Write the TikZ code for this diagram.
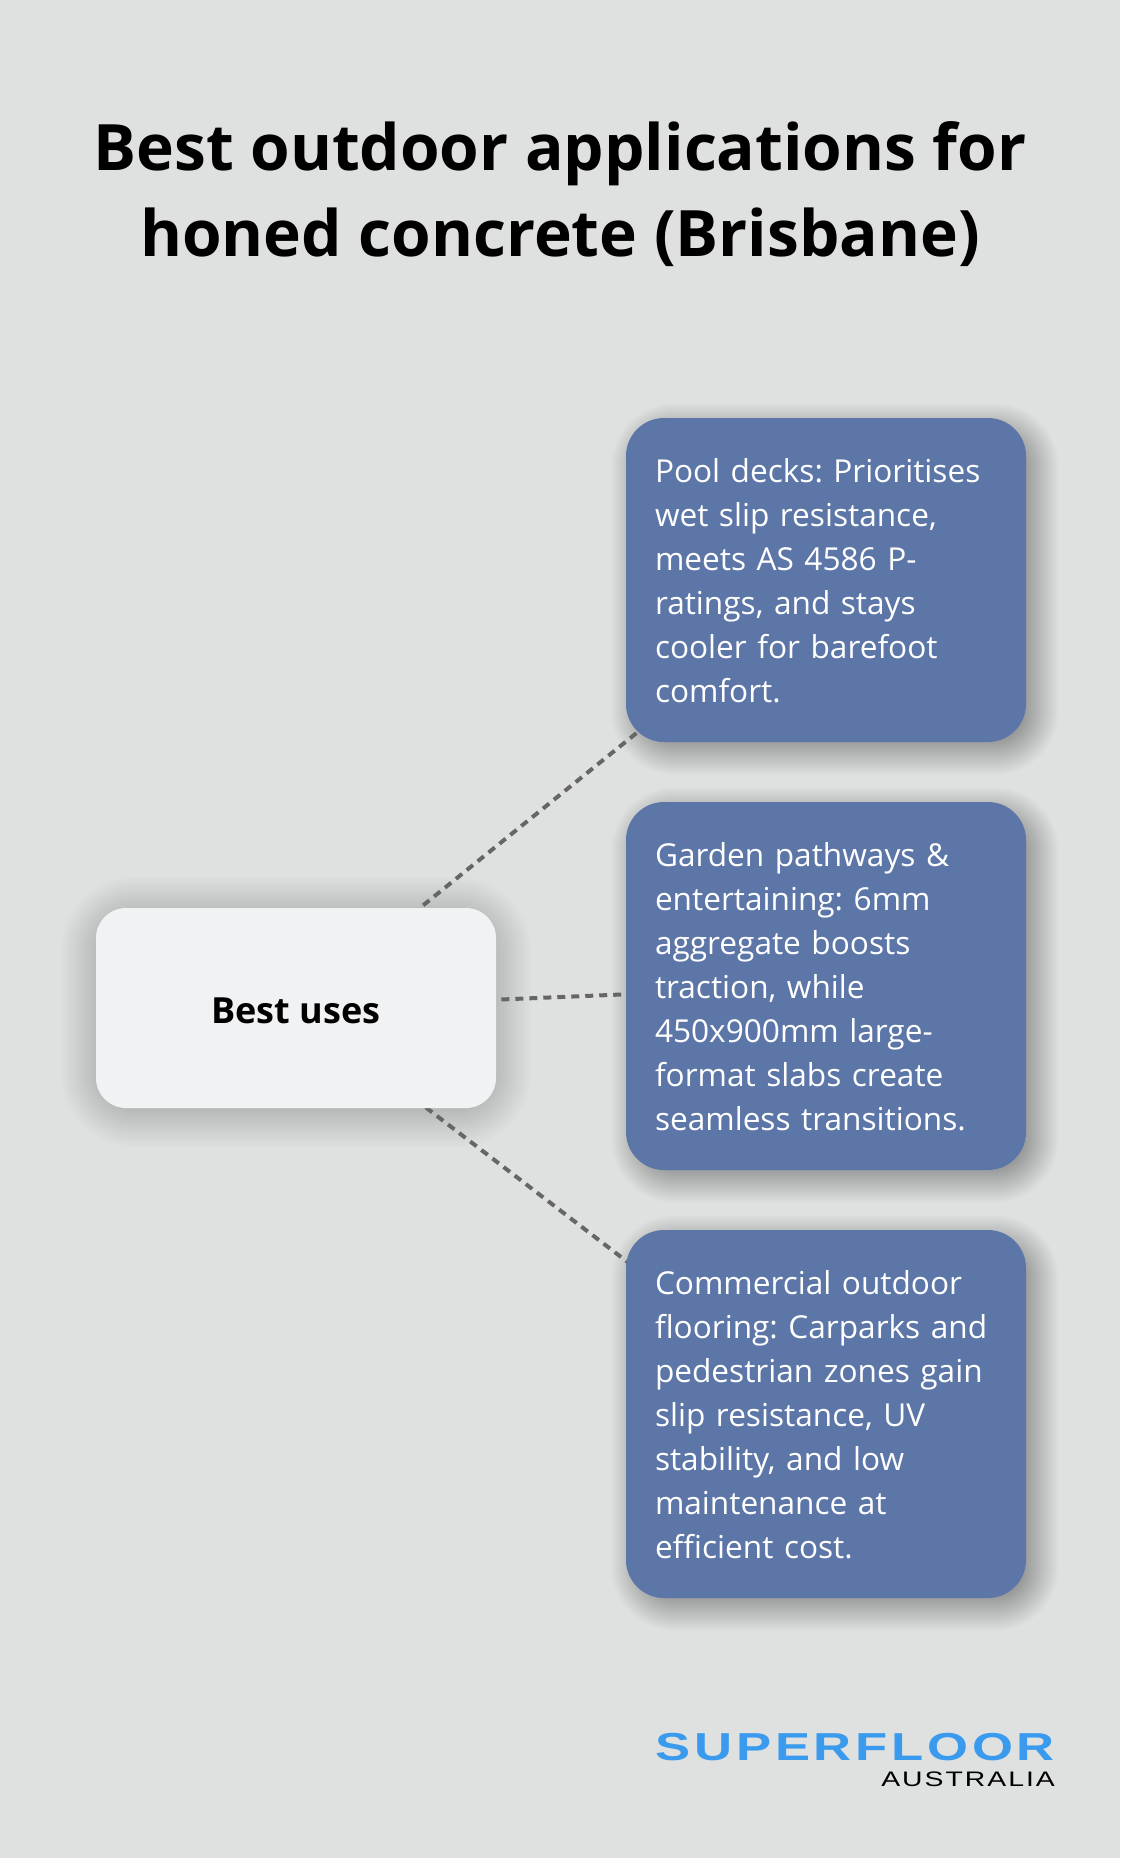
\documentclass[tikz,border=0pt]{standalone}
\usepackage{fontspec}
\setmainfont{Open Sans}
\newfontfamily\logofont[FakeStretch=1.35,LetterSpace=9.5]{Liberation Sans}
\usetikzlibrary{positioning,backgrounds}
\definecolor{pagebg}{HTML}{DFE1E0}
\definecolor{boxblue}{HTML}{5D76A8}
\definecolor{hubfill}{HTML}{F0F2F4}
\definecolor{linkgrey}{HTML}{666666}
\definecolor{logoblue}{HTML}{3A9BEE}
\tikzstyle{usebox}=[fill=boxblue, text=white, rounded corners=38pt, outer sep=0pt, inner xsep=29pt, inner ysep=0pt, text width=342pt, align=left, font=\fontsize{31.6}{44}\selectfont\frenchspacing, execute at begin node={\rule{0pt}{25.5pt}}]
\tikzstyle{hub}=[fill=hubfill, text=black, rounded corners=30pt, outer sep=0pt, minimum width=400pt, minimum height=200pt, font=\fontsize{36}{44}\selectfont\bfseries, execute at begin node={\rule{0pt}{31.5pt}}]
\tikzstyle{link}=[draw=linkgrey, line width=4pt, dash pattern=on 8pt off 6pt, dash phase=4.5pt]
\newcommand{\softshadow}[6]{%
  \foreach \g in {#4,#5,...,-10}
    \fill[black, opacity=#6, rounded corners=40pt+\g pt]
      ([shift={(#2pt-\g pt,#3pt+\g pt)}]#1.north west) rectangle ([shift={(#2pt+\g pt,#3pt-\g pt)}]#1.south east);
}

\begin{document}
\begin{tikzpicture}
  \useasboundingbox (0,0) rectangle (1120pt,-1858pt);
  \node [font=\fontsize{64}{86}\selectfont\bfseries, align=center] (title) at (560pt,-194pt) {Best outdoor applications for\\honed concrete (Brisbane)};
  \node [hub] (uses) at (296pt,-1008pt) {Best uses};
  \node [usebox, minimum height=324pt] (pool) at (826pt,-580pt) {Pool decks: Prioritises\\wet slip resistance,\\meets AS 4586 P-\\ratings, and stays\\cooler for barefoot\\comfort.};
  \node [usebox, minimum height=368pt] (garden) [below=60pt of pool] {Garden pathways \&\\entertaining: 6mm\\aggregate boosts\\traction, while\\450x900mm large-\\format slabs create\\seamless transitions.};
  \node [usebox, minimum height=368pt] (commercial) [below=60pt of garden] {Commercial outdoor\\flooring: Carparks and\\pedestrian zones gain\\slip resistance, UV\\stability, and low\\maintenance at\\efficient cost.};
  \node [logoblue, anchor=base east, inner sep=0pt, font=\logofont\fontsize{39}{39}\selectfont\bfseries] (brand) at (1055pt,-1760pt) {SUPERFLOOR};
  \node [black, anchor=base east, inner sep=0pt, font=\logofont\fontsize{21}{21}\selectfont] (country) at (1055pt,-1786pt) {AUSTRALIA};
  \begin{pgfonlayer}{background}
    \fill[pagebg] (0,0) rectangle (1120pt,-1858pt);
    \softshadow{uses}{0}{-4}{36}{35}{.004}
    \softshadow{pool}{9}{-9}{24}{23}{.0065}
    \softshadow{garden}{9}{-9}{24}{23}{.0065}
    \softshadow{commercial}{9}{-9}{24}{23}{.0065}
    \path[link] (uses.center) -- (pool.center);
    \path[link] (uses.center) -- (garden.center);
    \path[link] (uses.center) -- (commercial.center);
  \end{pgfonlayer}
\end{tikzpicture}
\end{document}
